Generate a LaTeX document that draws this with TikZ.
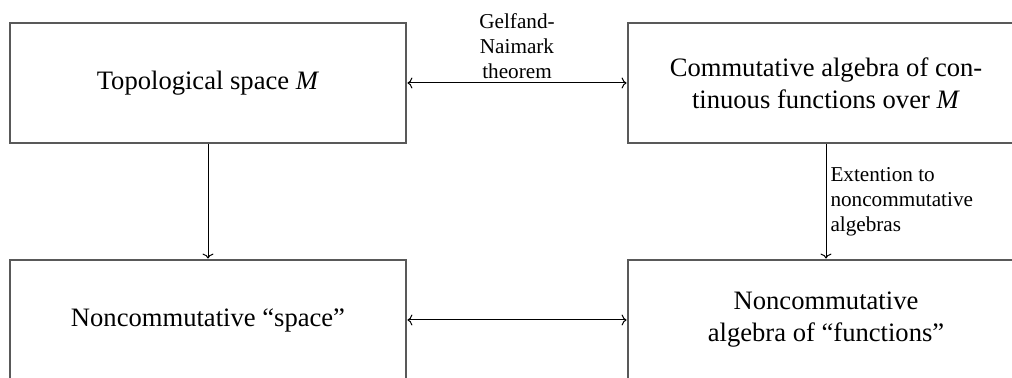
\documentclass[tikz,border=0pt]{standalone}
\usepackage{fontspec}
\setmainfont{Liberation Serif}
\usetikzlibrary{arrows.meta}

\begin{document}
\begin{tikzpicture}[x=0.5pt,y=0.5pt,>={To[length=2.5pt,width=5.5pt]},
  box/.style={draw=black!65,line width=1.4pt,minimum width=198pt,minimum height=60pt,
    inner sep=0pt,align=center,font=\fontsize{13.3}{16}\selectfont},
  lbl/.style={font=\fontsize{10.6}{12.5}\selectfont,inner sep=2pt},
  link/.style={line width=0.5pt}]
\useasboundingbox (0,0) rectangle (1012,378);
\clip (0,0) rectangle (1012,378);
\node[box] (topo) at (208,295) {Topological space \textit{M}};
\node[box] (comm) at (826,295) {Commutative algebra of con-\\tinuous functions over \textit{M}};
\node[box] (ncspace) at (208,58) {Noncommutative “space”};
\node[box] (ncalg) at (826,58) {Noncommutative\\algebra of “functions”};
\draw[link,<->] (topo) -- node[lbl,above,align=center] {Gelfand-\\Naimark\\theorem} (comm);
\draw[link,->] (topo) -- (ncspace);
\draw[link,->] (comm) -- node[lbl,right,align=left] {Extention to\\noncommutative\\algebras} (ncalg);
\draw[link,<->] (ncspace) -- (ncalg);
\end{tikzpicture}
\end{document}
